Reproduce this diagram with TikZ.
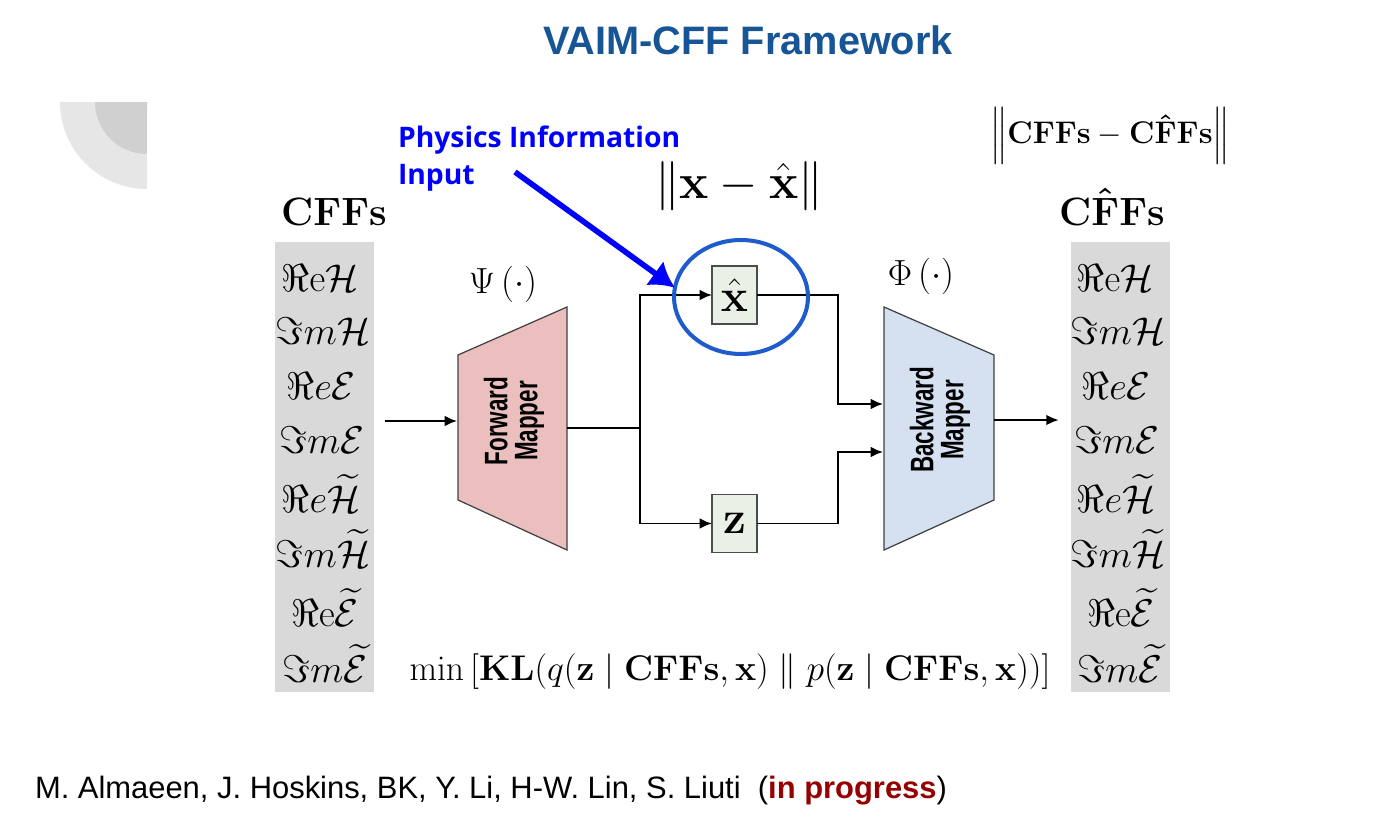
\RequirePackage{fix-cm}
\documentclass[tikz,border=0pt]{standalone}
\usepackage{amsmath,amssymb,amsfonts}
\usepackage[no-math]{fontspec}
\newfontfamily\arialfont{Liberation Sans}
\newfontfamily\opensansfont{Open Sans}
\usetikzlibrary{shapes,arrows,arrows.meta,calc,positioning,backgrounds}

\definecolor{titleblue}{RGB}{23,85,150}
\definecolor{ringblue}{RGB}{30,92,205}
\definecolor{fwdpink}{RGB}{236,191,191}
\definecolor{bwdblue}{RGB}{213,225,241}
\definecolor{latentgreen}{RGB}{233,241,230}
\definecolor{colgray}{RGB}{217,217,217}
\definecolor{progred}{RGB}{150,0,0}
\definecolor{cornerlight}{RGB}{230,230,230}
\definecolor{cornerdark}{RGB}{208,208,208}

\newcommand{\mapperfont}{\arialfont\bfseries\fontsize{18.5}{17}\selectfont}
\newcommand{\narrow}[1]{\scalebox{0.69}[1]{#1}}

\begin{document}
\begin{tikzpicture}[x=0.02cm,y=-0.02cm,
  every node/.style={inner sep=0pt,outer sep=0pt},
  cff/.style={anchor=base,font=\fontsize{22}{26}\selectfont},
  column/.style={fill=colgray,minimum width=1.98cm,minimum height=9cm},
  latent/.style={draw=black!70,fill=latentgreen,line width=0.6pt,
    minimum width=0.9cm,minimum height=1.16cm,font=\fontsize{26}{30}\selectfont},
  mapper/.style={draw=black!75,line width=0.7pt},
  wire/.style={line width=1.1pt,-{Latex[length=7pt,width=6pt]}}]

  \useasboundingbox (0,0) rectangle (1383,835);

  % corner decoration
  \fill[cornerlight] (147,102) -- (60,102) arc (180:270:1.74cm) -- cycle;
  \fill[cornerdark] (147,102) -- (95,102) arc (180:270:1.04cm) -- cycle;

  \node (title) at (748,40) {\arialfont\bfseries\fontsize{22.6}{26}\selectfont\color{titleblue}VAIM-CFF Framework};

  % input / output columns
  \node[column] (incol) at (324.5,467) {};
  \node[column] (outcol) at (1120.5,467) {};
  \node[anchor=base,font=\fontsize{22.5}{27}\selectfont] (inlabel) at (334,225) {$\mathbf{CFFs}$};
  \node[anchor=base,font=\fontsize{22.5}{27}\selectfont] (outlabel) at (1112,225) {$\mathbf{C\hat{F}Fs}$};

  \node[cff] (in1) at (320,291) {$\Re\mathrm{e}\mathcal{H}$};
  \node[cff] (in2) at (323,344) {$\Im m\mathcal{H}$};
  \node[cff] (in3) at (321,399) {$\Re e\mathcal{E}$};
  \node[cff] (in4) at (322,453) {$\Im m\mathcal{E}$};
  \node[cff] (in5) at (321,512) {$\Re e\widetilde{\mathcal{H}}$};
  \node[cff] (in6) at (323,567) {$\Im m\widetilde{\mathcal{H}}$};
  \node[cff] (in7) at (325,626) {$\Re\mathrm{e}\widetilde{\mathcal{E}}$};
  \node[cff] (in8) at (325,682) {$\Im m\widetilde{\mathcal{E}}$};

  \node[cff] (out1) at (1115,291) {$\Re\mathrm{e}\mathcal{H}$};
  \node[cff] (out2) at (1118,344) {$\Im m\mathcal{H}$};
  \node[cff] (out3) at (1116,399) {$\Re e\mathcal{E}$};
  \node[cff] (out4) at (1117,453) {$\Im m\mathcal{E}$};
  \node[cff] (out5) at (1116,512) {$\Re e\widetilde{\mathcal{H}}$};
  \node[cff] (out6) at (1118,567) {$\Im m\widetilde{\mathcal{H}}$};
  \node[cff] (out7) at (1121,626) {$\Re\mathrm{e}\widetilde{\mathcal{E}}$};
  \node[cff] (out8) at (1120,682) {$\Im m\widetilde{\mathcal{E}}$};

  % mappers
  \filldraw[mapper,fill=fwdpink] (458,355) -- (567,307) -- (567,550) -- (458,500) -- cycle;
  \filldraw[mapper,fill=bwdblue] (884,307) -- (994,355) -- (994,500) -- (884,550) -- cycle;
  \node[rotate=90,align=center,font=\mapperfont] (fwd) at (514,421) {\narrow{Forward}\\\narrow{Mapper}};
  \node[rotate=90,align=center,font=\mapperfont] (bwd) at (940,420) {\narrow{Backward}\\\narrow{Mapper}};
  \node[font=\fontsize{20.7}{24}\selectfont] (psi) at (503,284) {$\Psi\left(\cdot\right)$};
  \node[font=\fontsize{20.7}{24}\selectfont] (phi) at (921,276) {$\Phi\left(\cdot\right)$};

  \coordinate (fwdin) at (457,421);
  \coordinate (fwdout) at (567,428);
  \coordinate (bwdin1) at (883,404);
  \coordinate (bwdin2) at (883,452);
  \coordinate (bwdout) at (994,420);
  \coordinate (split) at (640,428);
  \coordinate (merge) at (838,428);

  % latent nodes
  \node[latent] (xhat) at (734.5,295) {$\hat{\mathbf{x}}$};
  \node[latent] (z) at (734.5,523.5) {$\mathbf{z}$};

  % wires
  \draw[wire,shorten <=6pt] (incol.east |- fwdin) -- (fwdin);
  \draw[wire,-] (fwdout) -- (split);
  \draw[wire] (split) |- (xhat.west);
  \draw[wire] (split) |- (z.west);
  \draw[wire] (xhat.east) -| (merge |- bwdin1) -- (bwdin1);
  \draw[wire] (z.east) -| (merge |- bwdin2) -- (bwdin2);
  \draw[wire,shorten >=7pt] (bwdout) -- (outcol.west |- bwdout);

  % losses
  \node[font=\fontsize{28}{32}\selectfont] (xloss) at (739,186) {$\left\|\mathbf{x}-\hat{\mathbf{x}}\right\|$};
  \node[font=\fontsize{17.8}{21}\selectfont] (cffloss) at (1110,136) {$\left\|\mathbf{CFFs}-\mathbf{C\hat{F}Fs}\right\|$};
  \node[font=\fontsize{20.3}{24}\selectfont] (klloss) at (730,672) {$\min\left[\mathbf{KL}(q(\mathbf{z}\mid\mathbf{CFFs},\mathbf{x})\parallel p(\mathbf{z}\mid\mathbf{CFFs},\mathbf{x}))\right]$};

  % physics information
  \node[draw=ringblue,line width=2.3pt,ellipse,minimum width=2.68cm,minimum height=2.28cm] (ring) at (741,297) {};
  \node[anchor=north west,align=left,font=\opensansfont\bfseries\fontsize{16.1}{21}\selectfont,text=blue] (physinfo) at (398,126) {Physics Information\\Input};
  \coordinate (physstart) at (515,172);
  \draw[blue,line width=3.2pt,-{Latex[length=14pt,width=17pt]}] (physstart) -- (ring.172);

  \node[anchor=base west] (authors) at (35,798) {\arialfont\fontsize{17.6}{21}\selectfont M. Almaeen, J. Hoskins, BK, Y. Li, H-W. Lin, S. Liuti\ \ (\textcolor{progred}{\bfseries in progress})};
\end{tikzpicture}
\end{document}
